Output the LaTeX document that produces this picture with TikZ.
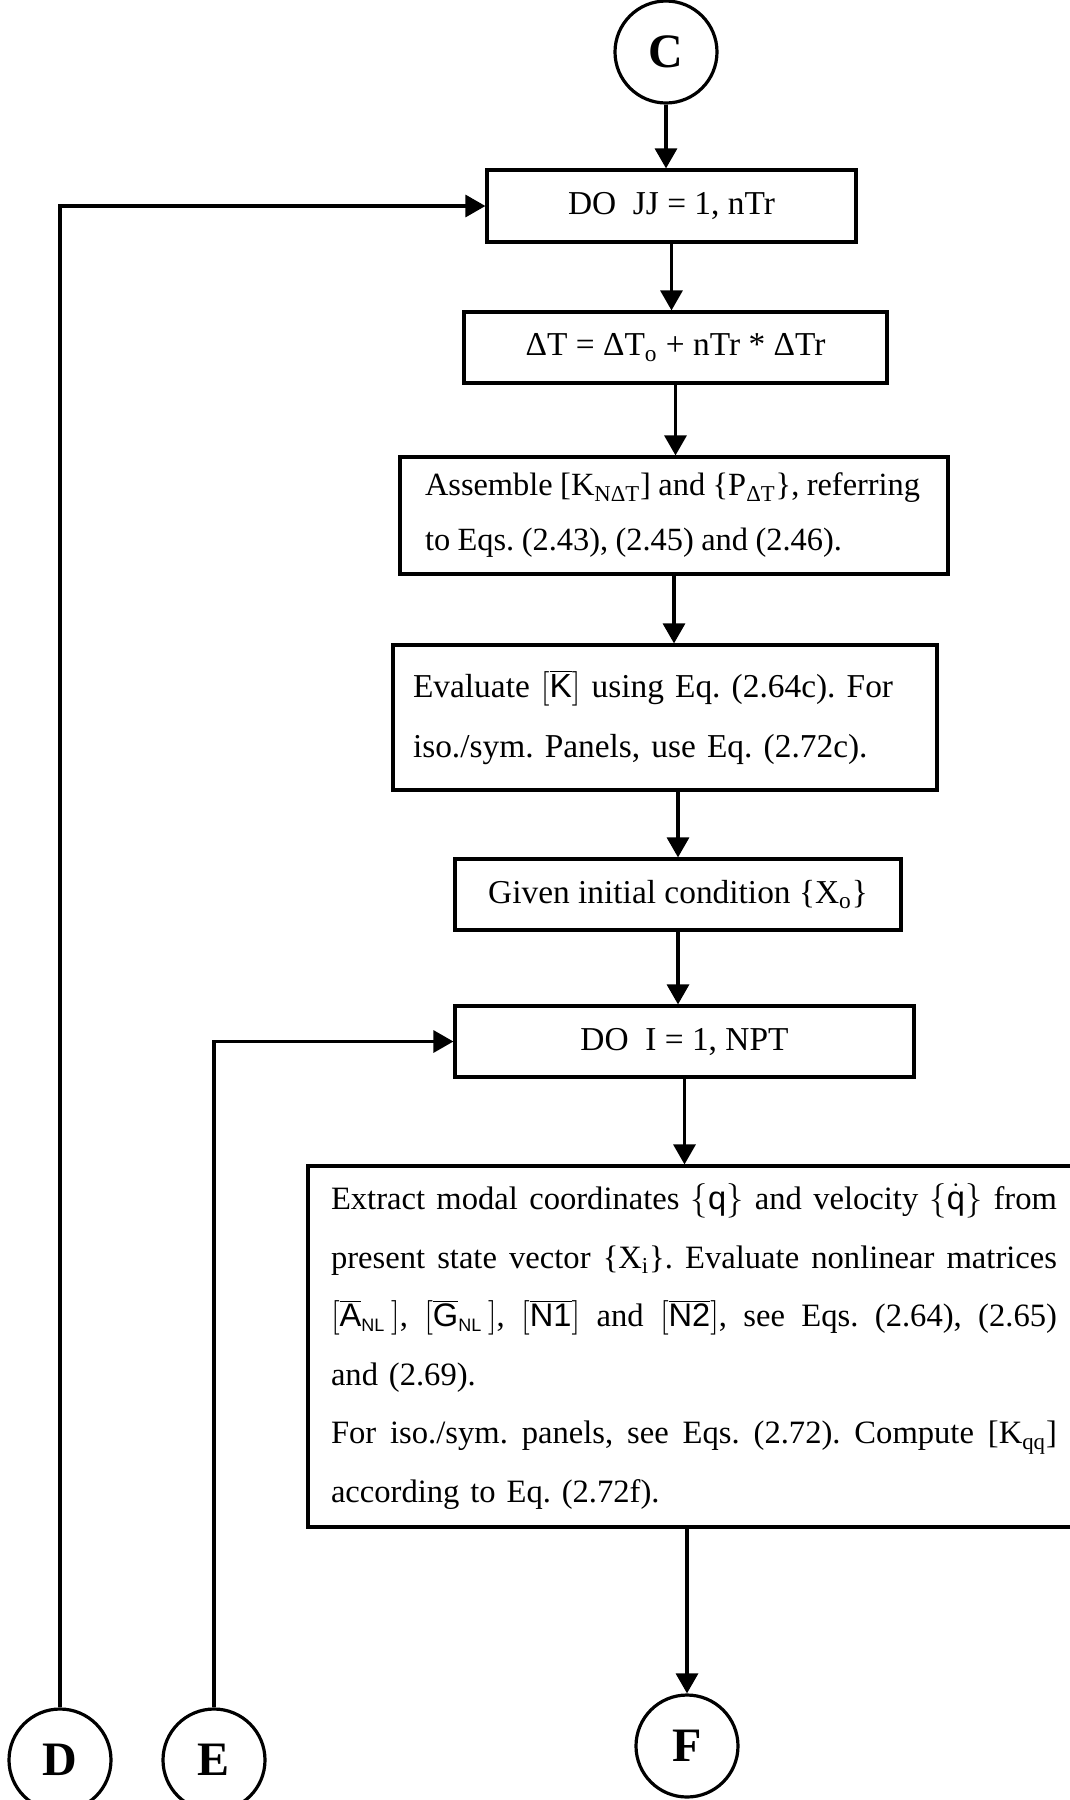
\documentclass[tikz,border=0pt]{standalone}
\usepackage{fontspec}
\setmainfont{Liberation Serif}
\newfontfamily\sanf{Liberation Sans}
\usetikzlibrary{arrows.meta}
\frenchspacing

% matrix / vector symbols set in sans serif
\newcommand\bmat[1]{\ensuremath{\left[\overline{\mbox{\sanf #1}}\right]}}
\newcommand\bmatsub[2]{\ensuremath{\left[\overline{\mbox{\sanf #1}}_{\mbox{\sanf\fontsize{9}{9}\selectfont #2}}\,\right]}}
\newcommand\bvec[1]{\ensuremath{\left\{\mbox{\sanf #1}\right\}}}
\newcommand\bvecdot[1]{\ensuremath{\left\{\dot{\mbox{\sanf #1}}\right\}}}
% one justified line of the long box
\newlength\extw
\setlength\extw{363pt}
\newcommand\jline[1]{\makebox[\extw][s]{\spaceskip=.25em plus .6em minus .1em\relax #1}}
% one line with slightly tighter word spaces
\newcommand\tline[1]{\mbox{\spaceskip=.23em plus .1em minus .05em\relax #1}}

\begin{document}
\begin{tikzpicture}[x=0.5pt,y=-0.5pt,
  line width=1.6pt,
  arr/.style={-{Triangle[length=10pt,width=11pt]}},
  flowbox/.style={draw,rectangle,inner sep=0pt,align=center,
    font=\fontsize{16.7}{20}\selectfont},
  textbox/.style={draw,rectangle,inner ysep=0pt,align=left},
  conn/.style={draw,circle,inner sep=0pt,minimum size=51pt,
    font=\fontsize{24}{24}\selectfont\bfseries}]

\useasboundingbox (0,0) rectangle (1070,1800);
\clip (0,0) rectangle (1070,1800);

% connectors
\node[conn] (C) at (666,52) {C};
\node[conn] (D) at (60,1760) {D};
\node[conn] (E) at (214,1760) {E};
\node[conn] (F) at (687,1746) {F};

% process boxes
\node[flowbox,minimum width=184.5pt,minimum height=36pt] (jj) at (671.5,206)
  {DO~~JJ = 1, nTr};
\node[flowbox,minimum width=211.5pt,minimum height=35.5pt] (dt) at (675.5,347.5)
  {ΔT = ΔT\textsubscript{o} + nTr * ΔTr};
\node[textbox,minimum width=274pt,minimum height=58.5pt,inner xsep=12.5pt,
  text width=249pt,font=\fontsize{16.2}{27.5}\selectfont] (asm) at (674,515.5)
  {\tline{Assemble [K\textsubscript{NΔT}] and \{P\textsubscript{ΔT}\}, referring}\\
   \tline{to Eqs. (2.43), (2.45) and (2.46).}};
\node[textbox,minimum width=272pt,minimum height=72.5pt,inner xsep=10pt,
  text width=252pt,font=\fontsize{16.7}{30}\selectfont] (ev) at (665,717.5)
  {\mbox{Evaluate \bmat{K} using Eq. (2.64c). For}\\
   \mbox{iso./sym. Panels, use Eq. (2.72c).}};
\node[flowbox,minimum width=223pt,minimum height=35.5pt] (given) at (678,894.5)
  {Given initial condition \{X\textsubscript{o}\}};
\node[flowbox,minimum width=229.5pt,minimum height=35.5pt] (doi) at (684.5,1041.5)
  {DO~~I = 1, NPT};
\node[textbox,minimum width=386pt,minimum height=180.5pt,inner xsep=11.5pt,
  text width=363pt,font=\fontsize{16.3}{29.3}\selectfont] (ext) at (694,1346.5)
  {\jline{Extract modal coordinates \bvec{q} and velocity \bvecdot{q} from}\\
   \jline{present state vector \{X\textsubscript{i}\}. Evaluate nonlinear matrices}\\
   \jline{\bmatsub{A}{NL}, \bmatsub{G}{NL}, \bmat{N1} and \bmat{N2}, see Eqs. (2.64), (2.65)}\\
   \mbox{and (2.69).}\\
   \jline{For iso./sym. panels, see Eqs. (2.72). Compute [K\textsubscript{qq}]}\\
   \mbox{according to Eq. (2.72f).}};

% main flow
\draw[arr] (C.south) -- (C.south |- jj.north);
\draw[arr] (jj.south) -- (jj.south |- dt.north);
\draw[arr] (dt.south) -- (dt.south |- asm.north);
\draw[arr] (asm.south) -- (asm.south |- ev.north);
\draw[arr] (given.north |- ev.south) -- (given.north);
\draw[arr] (given.south) -- (given.south |- doi.north);
\draw[arr] (doi.south) -- (doi.south |- ext.north);
\draw[arr] (F.north |- ext.south) -- (F.north);

% loop returns
\draw[arr] (D.north) |- (jj.west);
\draw[arr] (E.north) |- (doi.west);
\end{tikzpicture}
\end{document}
